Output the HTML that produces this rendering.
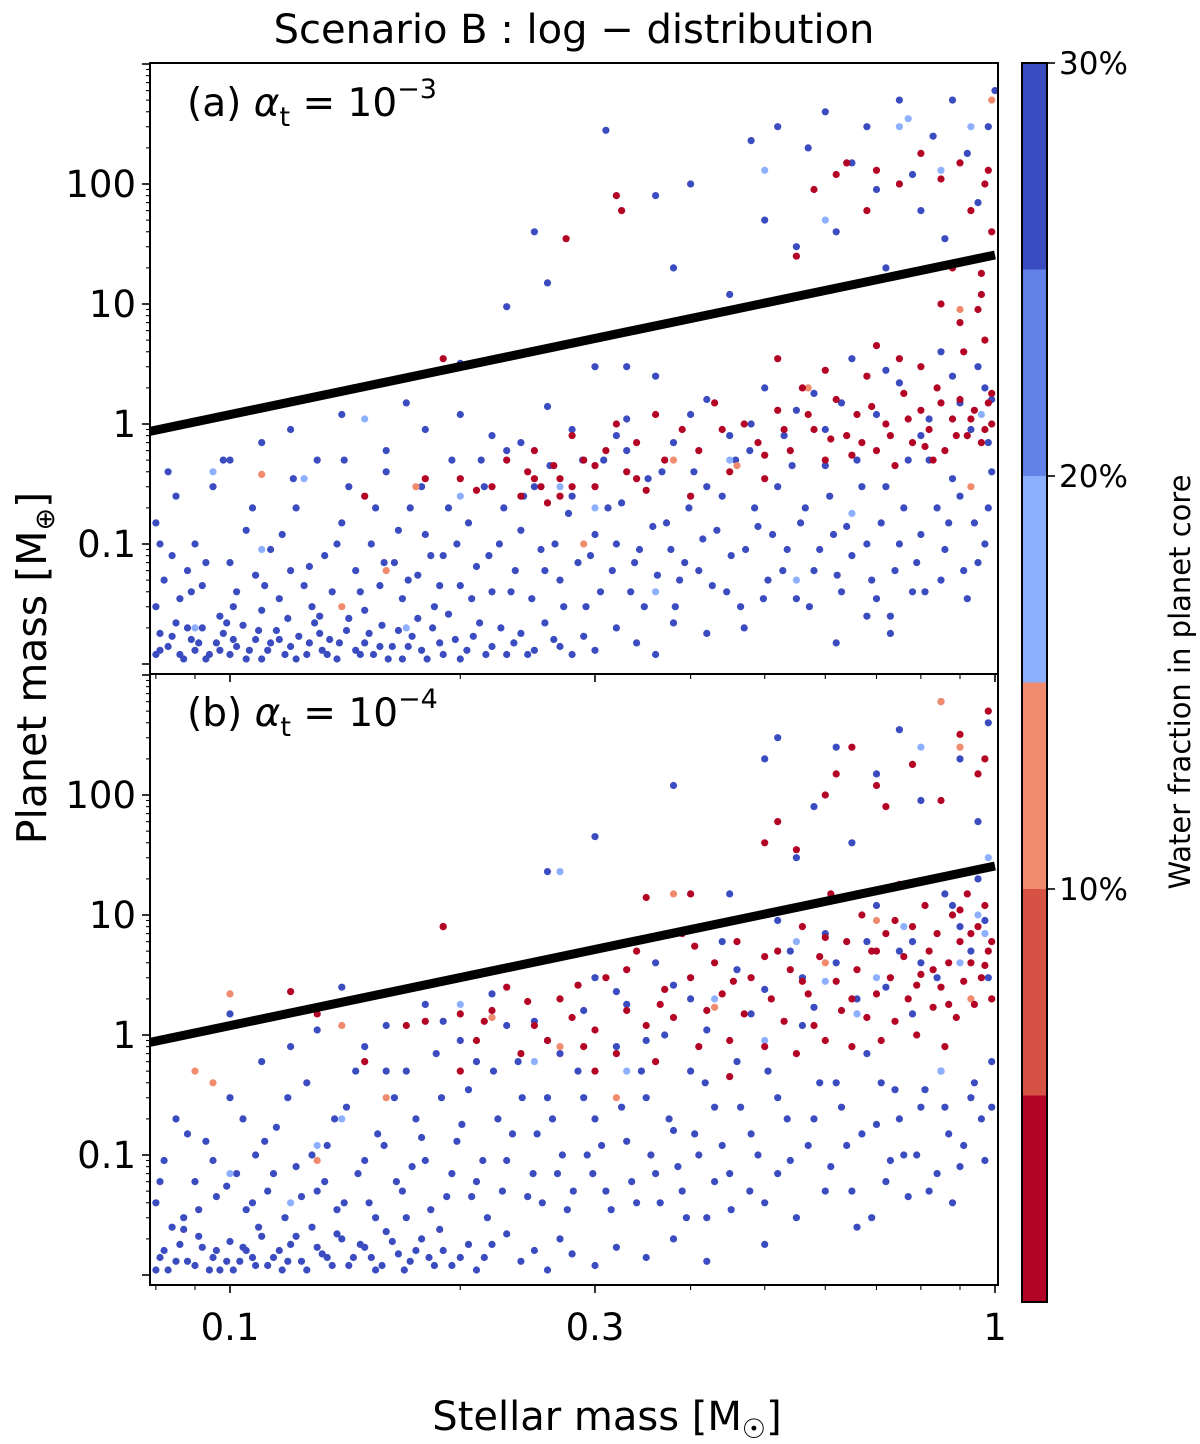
<!DOCTYPE html>
<html><head><meta charset="utf-8"><style>
html,body{margin:0;padding:0;background:#fff;}
svg{display:block;font-family:"DejaVu Sans","Liberation Sans",sans-serif;}
</style></head><body>
<svg id="chart" width="1200" height="1444" viewBox="0 0 1200 1444">
<text x="574" y="43" font-size="40" text-anchor="middle">Scenario B :  log − distribution</text>
<g id="pa"></g>
<g id="pb"></g>
<g id="axes"></g>
<g id="cbar"></g>
<text x="187" y="116" font-size="39">(a) <tspan font-style="italic">α</tspan><tspan font-size="27" dy="10">t</tspan><tspan dy="-10"> = 10</tspan><tspan font-size="27" dy="-18">−3</tspan></text>
<text x="187" y="726" font-size="39">(b) <tspan font-style="italic">α</tspan><tspan font-size="27" dy="10">t</tspan><tspan dy="-10"> = 10</tspan><tspan font-size="27" dy="-18">−4</tspan></text>
<text transform="translate(46,668) rotate(-90)" font-size="41" text-anchor="middle">Planet mass [M<tspan font-size="27" dy="8">⊕</tspan><tspan dy="-8">]</tspan></text>
<text x="607" y="1430" font-size="40" text-anchor="middle">Stellar mass [M<tspan font-size="27" dy="8">☉</tspan><tspan dy="-8">]</tspan></text>
<text transform="translate(1190,682) rotate(-90)" font-size="29" text-anchor="middle">Water fraction in planet core</text>
</svg>
<script>
// water fraction classes: 3 (red), 13 (salmon), 18 (light blue), 28 (blue)
const aBlue=[[0.08,.012],[0.081,.018],[0.083,.014],[0.085,.022],[0.087,.011],[0.089,.016],[0.09,.013],[0.092,.02],[0.094,.012],[0.096,.015],[0.098,.018],[0.1,.012],[0.102,.014],[0.104,.021],[0.106,.013],[0.108,.016],[0.11,.011],[0.113,.015],[0.115,.019],[0.118,.012],[0.12,.014],[0.123,.017],[0.126,.012],[0.129,.022],[0.132,.013],[0.135,.016],[0.138,.011],[0.142,.019],[0.146,.013],[0.15,.015],[0.154,.012],[0.158,.021],[0.163,.014],[0.168,.011],[0.173,.017],[0.178,.013],[0.184,.02],[0.19,.012],[0.197,.016],[0.204,.013],[0.212,.022],[0.22,.014],[0.23,.012],[0.24,.018],[0.25,.013],[0.265,.016],[0.28,.012],
[0.08,.03],[0.082,.05],[0.084,.08],[0.08,.15],[0.083,.4],[0.086,.035],[0.088,.06],[0.09,.1],[0.092,.045],[0.095,.3],[0.097,.025],[0.1,.07],[0.102,.04],[0.105,.13],[0.108,.055],[0.11,.028],[0.113,.09],[0.116,.035],[0.12,.06],[0.122,.2],[0.125,.045],[0.128,.03],[0.13,.5],[0.133,.08],[0.136,.04],[0.14,.15],[0.143,.3],[0.146,.06],[0.15,.028],[0.153,.1],[0.157,.045],[0.16,.4],[0.164,.07],[0.168,.035],[0.172,.2],[0.176,.055],[0.18,.12],[0.185,.03],[0.19,.08],[0.195,.5],[0.2,.045],[0.205,.15],[0.21,.065],[0.215,.3],[0.22,.04],[0.225,.1],[0.23,.6],[0.236,.06],[0.242,.25],[0.248,.035],[0.255,.09],[0.262,.45],[0.27,.05],[0.277,.18],[0.285,.07],[0.292,.03],[0.3,.12],[0.308,.5],[0.316,.06],[0.325,.22],[0.334,.04],[0.343,.09],[0.352,.35],[0.362,.055],[0.372,.15],[0.382,.03],[0.393,.07],[0.404,.4],[0.415,.11],[0.427,.045],[0.44,.25],[0.452,.08],[0.465,.03],[0.478,.6],[0.49,.14],[0.505,.05],[0.52,.3],[0.535,.09],[0.55,.035],[0.565,.2],[0.58,.06],[0.6,.45],[0.615,.12],[0.63,.04],[0.65,.08],[0.67,.3],[0.69,.05],[0.71,.15],[0.73,.025],[0.75,.1],[0.77,.5],[0.79,.07],[0.81,.04],[0.84,.2],[0.86,.09],[0.88,.35],[0.91,.06],[0.94,.15],[0.97,.1],[0.99,.4],
[0.11,.7],[0.14,1.2],[0.145,2],[0.17,1.5],[0.2,1.2],[0.22,.8],[0.26,1.4],[0.28,.9],[0.3,3],[0.33,1.1],[0.36,2.5],[0.38,.7],[0.42,1.6],[0.45,.8],[0.5,2],[0.55,1.3],[0.6,.9],[0.65,3.5],[0.7,1.2],[0.75,2.2],[0.8,.8],[0.85,4],[0.9,1.5],[0.95,3],[0.98,.7],
[0.2,3.2],[0.23,9.5],[0.25,40],[0.26,15],[0.31,280],[0.33,3],[0.36,80],[0.38,20],[0.4,100],[0.42,8],[0.45,12],[0.48,230],[0.5,50],[0.52,300],[0.55,30],[0.57,200],[0.6,400],[0.62,40],[0.65,150],[0.68,300],[0.7,90],[0.72,20],[0.75,500],[0.78,120],[0.8,60],[0.83,250],[0.86,35],[0.88,500],[0.92,180],[0.95,70],[0.98,300],[1.0,600]];
const aBlueExtra=[[0.081,.013],[0.084,.017],[0.086,.012],[0.088,.02],[0.091,.015],[0.093,.011],[0.097,.013],[0.099,.022],[0.101,.016],[0.105,.011],[0.109,.019],[0.112,.013],[0.116,.016],[0.119,.024],[0.122,.011],[0.127,.015],[0.131,.018],[0.134,.012],[0.139,.015],[0.143,.024],[0.148,.012],[0.152,.018],[0.157,.014],[0.161,.011],[0.166,.019],[0.171,.014],[0.176,.024],[0.181,.011],[0.188,.015],[0.193,.026],[0.2,.011],[0.208,.017],[0.216,.012],[0.226,.02],[0.235,.015],[0.245,.012],[0.258,.022],[0.27,.014],[0.29,.017],[0.3,.013],[0.32,.02],[0.34,.015],[0.36,.012],[0.38,.022],[0.42,.018],[0.47,.02],[0.62,.015],[0.68,.025],[0.73,.018],
[0.081,.1],[0.085,.25],[0.089,.04],[0.093,.07],[0.098,.5],[0.101,.03],[0.107,.2],[0.111,.045],[0.117,.12],[0.121,.35],[0.127,.065],[0.131,.025],[0.138,.1],[0.141,.5],[0.148,.04],[0.155,.2],[0.159,.07],[0.166,.13],[0.171,.05],[0.178,.3],[0.183,.08],[0.188,.045],[0.193,.2],[0.198,.1],[0.207,.035],[0.213,.5],[0.218,.08],[0.228,.2],[0.233,.04],[0.24,.13],[0.25,.3],[0.258,.06],[0.266,.1],[0.273,.03],[0.28,.25],[0.289,.5],[0.296,.08],[0.305,.04],[0.312,.2],[0.32,.1],[0.33,.6],[0.338,.07],[0.348,.03],[0.357,.14],[0.367,.4],[0.377,.09],[0.387,.05],[0.398,.2],[0.41,.06],[0.42,.3],[0.433,.13],[0.446,.04],[0.458,.5],[0.472,.09],[0.485,.2],[0.498,.035],[0.512,.12],[0.528,.06],[0.543,.45],[0.557,.15],[0.572,.03],[0.59,.09],[0.608,.25],[0.622,.055],[0.64,.14],[0.66,.5],[0.68,.1],[0.7,.035],[0.72,.3],[0.74,.06],[0.76,.2],[0.78,.04],[0.8,.12],[0.82,.5],[0.85,.05],[0.87,.15],[0.9,.25],[0.92,.035],[0.95,.07],[0.98,.2],
[0.1,.5],[0.12,.9],[0.16,.6],[0.18,.9],[0.24,.7],[0.32,.8],[0.4,1.2],[0.48,1],[0.53,.8],[0.58,1.8],[0.63,1.5],[0.72,2.8],[0.82,1.1],[0.88,2.5],[0.93,.9],[0.97,2],[0.99,1.6]];
const aLightBlue=[[0.125,.35],[0.095,.4],[0.17,.02],[0.2,.25],[0.27,.3],[0.36,.04],[0.5,130],[0.6,50],[0.75,300],[0.77,350],[0.85,130],[0.93,300],[0.99,25],[0.45,.5],[0.65,.18],[0.15,1.1],[0.11,.09],[0.09,.02],[0.3,.2],[0.55,.05],[0.96,1.2]];
const aSalmon=[[0.11,.38],[0.175,.3],[0.16,.06],[0.29,.1],[0.38,.5],[0.57,2],[0.9,9],[0.93,.3],[0.99,500],[0.14,.03],[0.46,.45]];
const aRed=[[0.2,.35],[0.22,.3],[0.23,.5],[0.24,.25],[0.245,.4],[0.25,.6],[0.255,.3],[0.26,.22],[0.265,.45],[0.27,.35],[0.28,.8],[0.29,.5],[0.3,.3],[0.31,.6],[0.32,1],[0.33,.4],[0.34,.7],[0.35,.28],[0.36,1.2],[0.37,.5],[0.39,.9],[0.41,.6],[0.43,1.5],[0.45,.4],[0.47,1],[0.49,.7],[0.5,.35],[0.52,1.3],[0.54,.6],[0.56,2],[0.58,.9],[0.6,.5],[0.62,1.6],[0.64,.8],[0.66,1.2],[0.68,2.5],[0.7,.6],[0.72,1],[0.74,.45],[0.76,1.8],[0.78,.7],[0.8,1.3],[0.82,.9],[0.84,2],[0.86,.6],[0.88,1.1],[0.9,1.6],[0.92,.8],[0.94,1.3],[0.96,.7],[0.98,1.5],[0.99,1.0],[0.28,.3],[0.4,.25],[0.53,.9],[0.67,.7],[0.83,.5],
[0.52,3.5],[0.6,2.8],[0.7,4.5],[0.8,3],[0.85,10],[0.9,7],[0.95,9],[0.97,5],
[0.19,3.5],[0.275,35],[0.32,80],[0.325,60],[0.55,25],[0.62,120],[0.64,150],[0.7,130],[0.75,100],[0.8,180],[0.85,110],[0.9,150],[0.93,60],[0.97,100],[0.98,130],[0.99,40],[0.68,60],[0.58,90],[0.88,20],[0.96,18],
[0.15,.25],[0.18,.35],[0.21,.28],[0.25,.35],[0.27,.25],[0.3,.45],[0.34,.35],[0.44,.9],[0.5,.55],[0.57,1.2],[0.61,.75],[0.65,.55],[0.69,1.4],[0.73,.8],[0.77,1.1],[0.81,.65],[0.85,1.5],[0.89,.8],[0.93,1.1],[0.97,.9],[0.99,1.8],[0.75,3.5],[0.91,4],[0.96,12]];

const bBlue=[[0.08,.011],[0.082,.016],[0.085,.013],[0.087,.024],[0.09,.012],[0.092,.017],[0.095,.014],[0.097,.011],[0.1,.019],[0.103,.013],[0.105,.016],[0.108,.012],[0.11,.021],[0.114,.014],[0.117,.011],[0.12,.018],[0.124,.013],[0.128,.025],[0.132,.015],[0.136,.012],[0.14,.02],[0.145,.014],[0.15,.017],[0.155,.011],[0.16,.023],[0.166,.015],[0.172,.013],[0.178,.02],[0.185,.012],[0.19,.016],[0.2,.014],[0.21,.011],[0.22,.018],[0.24,.013],[0.26,.011],[0.28,.015],
[0.08,.04],[0.082,.09],[0.085,.2],[0.087,.03],[0.09,.06],[0.093,.13],[0.096,.045],[0.1,.3],[0.102,.07],[0.105,.035],[0.108,.1],[0.112,.05],[0.115,.17],[0.118,.03],[0.122,.08],[0.126,.4],[0.13,.05],[0.134,.12],[0.138,.035],[0.142,.25],[0.147,.07],[0.152,.04],[0.156,.15],[0.16,.5],[0.165,.06],[0.17,.03],[0.175,.2],[0.18,.09],[0.186,.7],[0.192,.045],[0.198,.13],[0.205,.35],[0.21,.06],[0.217,.03],[0.224,.2],[0.23,.09],[0.238,.6],[0.245,.045],[0.252,.15],[0.26,.3],[0.268,.07],[0.276,.035],[0.285,.5],[0.293,.1],[0.3,.2],[0.31,.05],[0.32,.8],[0.33,.13],[0.34,.04],[0.35,.3],[0.36,.07],[0.37,1],[0.38,.16],[0.39,.05],[0.4,.5],[0.41,.1],[0.42,.03],[0.43,.25],[0.45,.07],[0.46,.6],[0.48,.15],[0.5,.04],[0.52,.3],[0.54,.09],[0.56,1.2],[0.58,.2],[0.6,.05],[0.62,.4],[0.64,.12],[0.66,.025],[0.68,.7],[0.7,.18],[0.72,.06],[0.74,.35],[0.76,.1],[0.78,1.5],[0.8,.25],[0.82,.05],[0.85,.5],[0.87,.15],[0.9,.08],[0.93,.3],[0.96,.2],[0.99,.6],
[0.1,1.5],[0.12,.8],[0.14,2.5],[0.16,1.2],[0.18,1.8],[0.2,.9],[0.22,2.2],[0.25,1.3],[0.27,.7],[0.3,3],[0.33,1.8],[0.36,4],[0.4,2],[0.44,6],[0.48,1.5],[0.52,9],[0.56,3],[0.6,7],[0.66,2],[0.7,12],[0.75,5],[0.8,4],[0.86,15],[0.9,8],[0.95,20],[0.98,3],
[0.26,23],[0.3,45],[0.38,120],[0.5,200],[0.52,300],[0.58,80],[0.62,250],[0.65,40],[0.7,150],[0.75,350],[0.8,90],[0.85,600],[0.9,200],[0.95,60],[0.98,400],[0.55,30],[0.45,15]];
const bBlueExtra=[[0.081,.014],[0.083,.011],[0.086,.018],[0.088,.013],[0.091,.021],[0.094,.011],[0.096,.016],[0.099,.013],[0.101,.011],[0.104,.017],[0.107,.014],[0.109,.025],[0.112,.012],[0.116,.016],[0.119,.013],[0.122,.021],[0.126,.011],[0.13,.017],[0.134,.014],[0.138,.022],[0.143,.012],[0.148,.018],[0.153,.014],[0.158,.012],[0.163,.019],[0.169,.011],[0.175,.016],[0.182,.014],[0.188,.024],[0.195,.012],[0.205,.018],[0.215,.014],[0.23,.022],[0.25,.016],[0.27,.02],[0.3,.012],[0.32,.017],[0.35,.014],[0.38,.02],[0.42,.013],[0.5,.018],
[0.081,.06],[0.084,.025],[0.088,.15],[0.091,.035],[0.095,.09],[0.099,.055],[0.104,.2],[0.107,.04],[0.111,.13],[0.114,.07],[0.119,.3],[0.124,.045],[0.128,.1],[0.133,.06],[0.137,.2],[0.141,.04],[0.146,.5],[0.15,.09],[0.155,.03],[0.159,.12],[0.164,.3],[0.168,.05],[0.173,.08],[0.178,.14],[0.183,.035],[0.189,.3],[0.195,.07],[0.201,.18],[0.207,.045],[0.214,.09],[0.221,.5],[0.227,.05],[0.234,.15],[0.241,.3],[0.249,.07],[0.256,.04],[0.264,.2],[0.272,.1],[0.281,.05],[0.29,.3],[0.298,.07],[0.306,.12],[0.315,.035],[0.325,.25],[0.335,.06],[0.345,.5],[0.355,.1],[0.365,.04],[0.375,.2],[0.385,.08],[0.395,.03],[0.405,.15],[0.418,.4],[0.43,.06],[0.44,.12],[0.452,.035],[0.465,.25],[0.478,.05],[0.49,.1],[0.505,.5],[0.52,.07],[0.535,.2],[0.55,.03],[0.57,.12],[0.59,.4],[0.61,.08],[0.63,.25],[0.65,.05],[0.67,.15],[0.69,.03],[0.71,.4],[0.73,.09],[0.75,.2],[0.77,.045],[0.79,.1],[0.81,.35],[0.84,.07],[0.86,.25],[0.88,.04],[0.91,.12],[0.94,.4],[0.97,.09],[0.99,.25],
[0.11,.6],[0.13,1.1],[0.15,.8],[0.17,.5],[0.19,1.3],[0.21,.6],[0.23,1.2],[0.26,.9],[0.29,1.6],[0.32,2.3],[0.35,.9],[0.38,2.6],[0.42,1.1],[0.46,3.5],[0.5,2.4],[0.54,5],[0.58,1.7],[0.62,4],[0.68,6],[0.72,2.5],[0.78,6],[0.84,3],[0.88,12],[0.93,5],[0.97,9]];
const bLightBlue=[[0.13,.12],[0.1,.07],[0.2,1.8],[0.27,23],[0.43,2],[0.55,6],[0.6,2.8],[0.7,3],[0.8,250],[0.85,.5],[0.9,4],[0.95,10],[0.97,7],[0.98,30],[0.25,.6],[0.5,.9],[0.12,.04],[0.14,.2],[0.33,.5],[0.66,1.5],[0.76,8]];
const bSalmon=[[0.09,.5],[0.095,.4],[0.1,2.2],[0.14,1.2],[0.13,.09],[0.16,.3],[0.22,1.4],[0.27,.8],[0.32,.3],[0.38,15],[0.43,1.7],[0.6,4],[0.7,9],[0.85,600],[0.9,250],[0.93,2]];
const bRed=[[0.12,2.3],[0.13,1.5],[0.15,.6],[0.17,1.2],[0.19,8],[0.2,1.5],[0.21,.9],[0.22,1.6],[0.23,2.5],[0.24,.7],[0.25,1.2],[0.26,.9],[0.27,2],[0.28,1.4],[0.29,.8],[0.3,1.1],[0.31,3],[0.32,.7],[0.33,1.6],[0.34,5],[0.35,1.2],[0.36,.6],[0.37,2.4],[0.38,1.4],[0.39,7],[0.4,3],[0.41,.8],[0.42,1.6],[0.43,4],[0.44,2.2],[0.45,.9],[0.46,6],[0.47,1.5],[0.48,3],[0.49,10],[0.5,.8],[0.51,2],[0.52,5],[0.53,1.3],[0.54,3.5],[0.55,.7],[0.56,8],[0.57,2.2],[0.58,1.2],[0.59,4.5],[0.6,.9],[0.61,15],[0.62,2.8],[0.63,1.6],[0.64,6],[0.65,.8],[0.66,3.5],[0.67,10],[0.68,1.4],[0.69,5],[0.7,2.2],[0.71,.9],[0.72,7],[0.73,3],[0.74,1.3],[0.75,18],[0.76,4.5],[0.77,2],[0.78,8],[0.79,1],[0.8,3.2],[0.81,12],[0.82,5],[0.83,1.7],[0.84,7],[0.85,2.5],[0.86,.8],[0.87,4],[0.88,10],[0.89,1.4],[0.9,6],[0.91,2.8],[0.92,15],[0.93,4],[0.94,1.8],[0.95,8],[0.96,3],[0.97,12],[0.98,5],[0.99,2],[0.2,.5],[0.3,.5],[0.45,.45],
[0.19,8],[0.35,14],[0.5,40],[0.52,60],[0.55,35],[0.6,100],[0.62,150],[0.65,250],[0.7,120],[0.72,80],[0.78,180],[0.85,90],[0.9,320],[0.95,150],[0.98,500],[0.97,200],[0.4,15],
[0.18,1.3],[0.215,1.3],[0.245,1.9],[0.285,2.6],[0.33,3.5],[0.365,1.8],[0.405,5.5],[0.455,2.8],[0.5,4.5],[0.56,2.8],[0.6,6.5],[0.65,2],[0.7,5],[0.74,9],[0.79,2.6],[0.83,3.5],[0.87,1.8],[0.9,11],[0.93,7],[0.97,3.8],[0.99,6]];

const yTickValues=[0.1,1,10,100];
const yTickLabels=["0.1","1","10","100"];
const xTickValues=[0.1,0.3,1];
const xTickLabels=["0.1","0.3","1"];
const lineCoef=[25.6,1.33]; // Mp = a * Mstar^b
const cbarTicks=[10,20,30];
const cbarTickLabels=["10%","20%","30%"];
const cbarBounds=[0,5,10,15,20,25,30];
const cbarColors=["#b40426","#d65244","#f08b6e","#8db0fe","#6282ea","#3b4cc0"];

const NS="http://www.w3.org/2000/svg";
const X0=150,X1=998;
const xS=v=>230+765*(Math.log10(v)+1);
const panels=[{g:'pa',top:63,bot:674,y1:424},{g:'pb',top:674,bot:1285,y1:1035}];
function yS(p,v){return p.y1-120*Math.log10(v);}
function el(tag,attrs,parent){const e=document.createElementNS(NS,tag);for(const k in attrs)e.setAttribute(k,attrs[k]);parent.appendChild(e);return e;}
function colorFor(w){for(let i=0;i<cbarColors.length;i++){if(w<cbarBounds[i+1])return cbarColors[i];}return cbarColors[cbarColors.length-1];}
const sets=[[[aBlue,28],[aBlueExtra,28],[aLightBlue,18],[aSalmon,13],[aRed,3]],[[bBlue,28],[bBlueExtra,28],[bLightBlue,18],[bSalmon,13],[bRed,3]]];
const axes=document.getElementById('axes');
panels.forEach((p,pi)=>{
  const g=document.getElementById(p.g);
  const cp=el('clipPath',{id:'cp'+pi},g);
  el('rect',{x:X0,y:p.top,width:X1-X0,height:p.bot-p.top},cp);
  const pts=el('g',{'clip-path':'url(#cp'+pi+')'},g);
  
  
  sets[pi].forEach(([arr,w])=>{
    arr.forEach(d=>{
      const c=el('circle',{cx:xS(d[0]).toFixed(1),cy:yS(p,d[1]).toFixed(1),r:3.6,fill:colorFor(w)},pts);
      
      
    });
  });
  const xa=0.0786,xb=1.0;
  const ln=el('line',{x1:xS(xa),y1:yS(p,lineCoef[0]*Math.pow(xa,lineCoef[1])),x2:xS(xb),y2:yS(p,lineCoef[0]*Math.pow(xb,lineCoef[1])),stroke:'#000','stroke-width':9},pts);
  
  
  const fr=el('rect',{x:X0,y:p.top,width:X1-X0,height:p.bot-p.top,fill:'none',stroke:'#000','stroke-width':2},g);
  
  
  for(let e=-2;e<=3;e++){for(let m=1;m<10;m++){const v=m*Math.pow(10,e);const y=yS(p,v);if(y<p.top||y>p.bot)continue;
    const L=m===1?8:4;el('line',{x1:X0-L,x2:X0,y1:y,y2:y,stroke:'#000','stroke-width':m===1?1.6:1.1},axes);}}
  yTickValues.forEach((v,i)=>{const t=el('text',{x:X0-14,y:yS(p,v)+13,'font-size':37,'text-anchor':'end'},axes);t.textContent=yTickLabels[i];
    
    });
  [0.08,0.09,0.1,0.2,0.3,0.4,0.5,0.6,0.7,0.8,0.9,1].forEach(v=>{const x=xS(v);const major=xTickValues.includes(v);const L=major?8:5;
    el('line',{x1:x,x2:x,y1:p.bot,y2:p.bot+L,stroke:'#000','stroke-width':major?1.6:1.1},axes);});
});
xTickValues.forEach((v,i)=>{const t=el('text',{x:xS(v),y:1340,'font-size':37,'text-anchor':'middle'},axes);t.textContent=xTickLabels[i];
  
  });
const cb=document.getElementById('cbar');
const CT=63,CB=1302,CX=1022,CW=25;
const cy=v=>CB-(CB-CT)*v/30;
cbarColors.forEach((c,i)=>{const r=el('rect',{x:CX,y:cy(cbarBounds[i+1]),width:CW,height:cy(cbarBounds[i])-cy(cbarBounds[i+1]),fill:c},cb);
  
  });
el('rect',{x:CX,y:CT,width:CW,height:CB-CT,fill:'none',stroke:'#000','stroke-width':2},cb);
cbarTicks.forEach((v,i)=>{el('line',{x1:CX+CW,x2:CX+CW+8,y1:cy(v),y2:cy(v),stroke:'#000','stroke-width':1.6},cb);
  const t=el('text',{x:CX+CW+12,y:cy(v)+11,'font-size':31},cb);t.textContent=cbarTickLabels[i];
  
  });
</script>
</body></html>
